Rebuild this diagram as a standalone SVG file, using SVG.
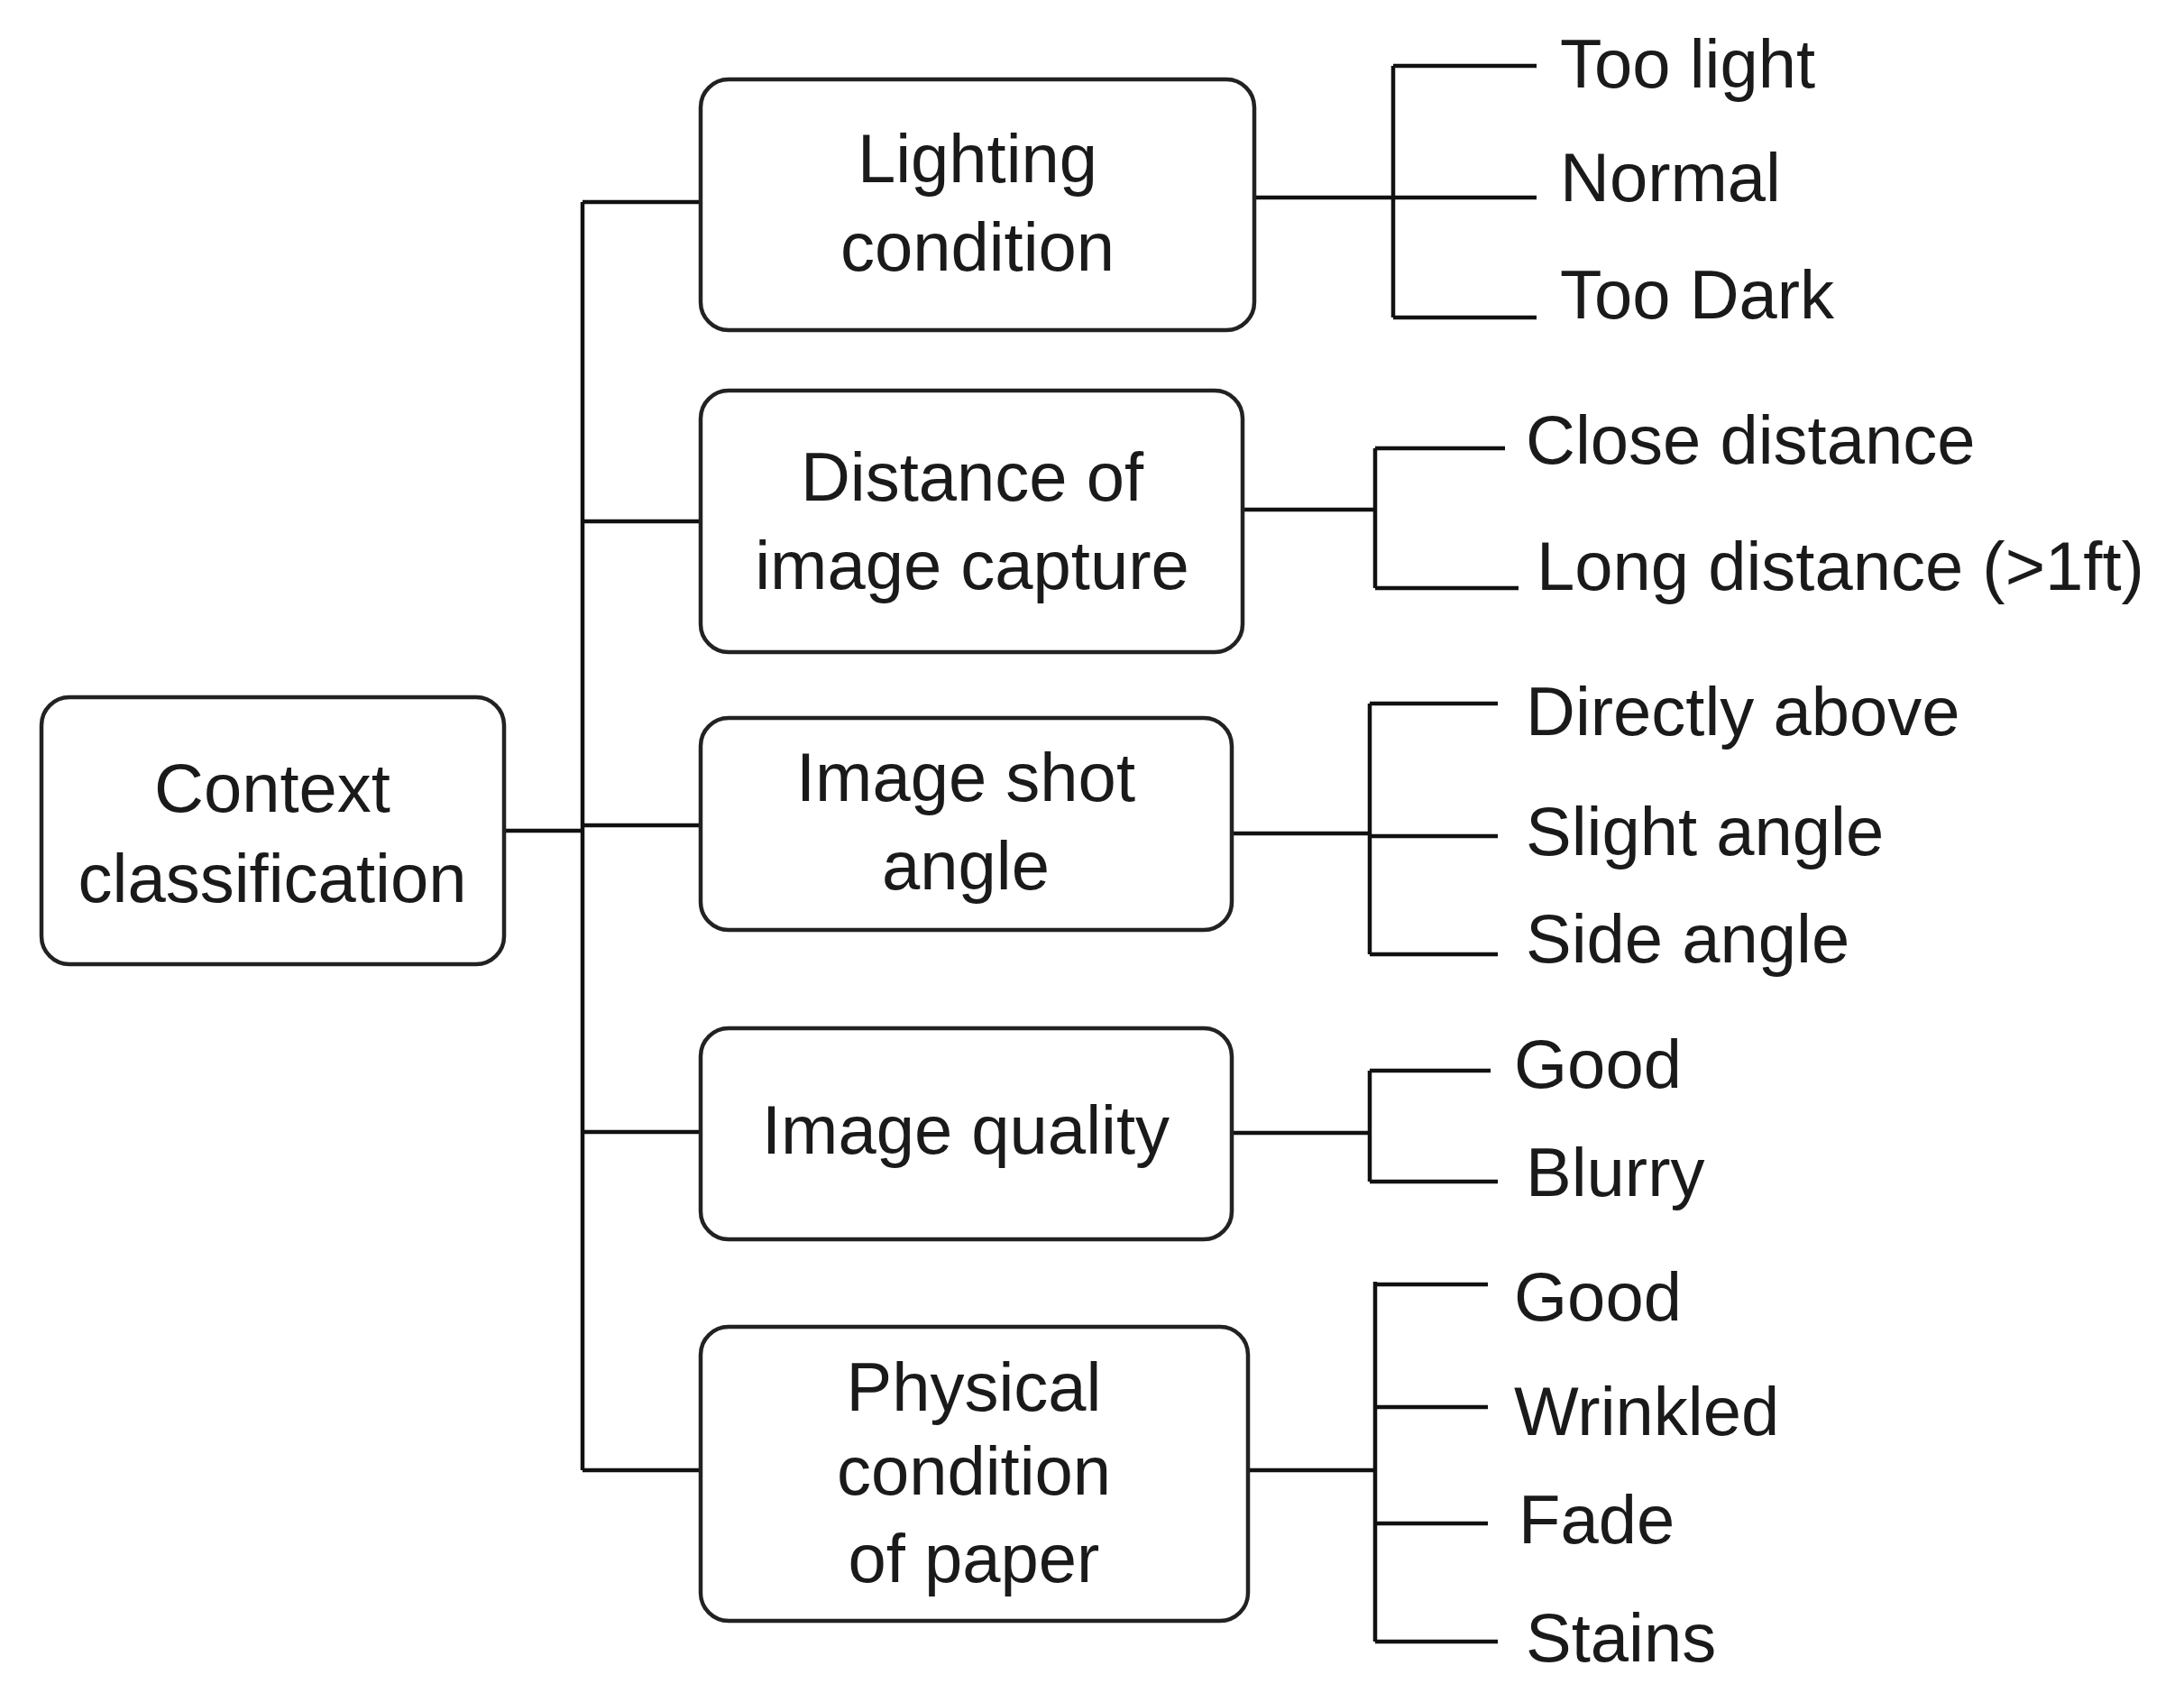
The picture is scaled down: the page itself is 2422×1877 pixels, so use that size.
<svg xmlns="http://www.w3.org/2000/svg" width="2422" height="1877" viewBox="0 0 2422 1877">
<style>
.b{fill:#fff;stroke:#222;stroke-width:4.5}
text{font-family:"Liberation Sans",Arial,sans-serif;font-size:76px;fill:#1a1a1a;dominant-baseline:central}
.c{text-anchor:middle}
.l{fill:none;stroke:#111;stroke-width:4.5}
</style>
<rect width="2422" height="1877" fill="#fff"/>
<g id="connectors" class="l">
<path d="M559 921H646M646 224V1630M646 224H777M646 578H777M646 915H777M646 1255H777M646 1630H777"/>
<path d="M1391 219H1545M1545 73V352M1545 73H1704M1545 219H1704M1545 352H1704"/>
<path d="M1378 565H1525M1525 497V652M1525 497H1669M1525 652H1684"/>
<path d="M1366 924H1519M1519 780V1058M1519 780H1661M1519 927H1661M1519 1058H1661"/>
<path d="M1366 1256H1519M1519 1187V1310M1519 1187H1653M1519 1310H1661"/>
<path d="M1384 1630H1525M1525 1421V1820M1525 1424H1650M1525 1560H1650M1525 1689H1650M1525 1820H1661"/>
</g>
<g id="root"><rect class="b" x="46" y="773" width="513" height="296" rx="31"/><text class="c" x="302" y="873">Context</text><text class="c" x="302" y="973">classification</text></g>
<g id="lighting"><rect class="b" x="777" y="88" width="614" height="278" rx="31"/><text class="c" x="1084" y="175">Lighting</text><text class="c" x="1084" y="273">condition</text></g>
<g id="distance"><rect class="b" x="777" y="433" width="601" height="290" rx="31"/><text class="c" x="1078" y="528">Distance of</text><text class="c" x="1078" y="626">image capture</text></g>
<g id="angle"><rect class="b" x="777" y="796" width="589" height="235" rx="31"/><text class="c" x="1071" y="861">Image shot</text><text class="c" x="1071" y="959">angle</text></g>
<g id="quality"><rect class="b" x="777" y="1140" width="589" height="234" rx="31"/><text class="c" x="1071" y="1252">Image quality</text></g>
<g id="paper"><rect class="b" x="777" y="1471" width="607" height="326" rx="31"/><text class="c" x="1080" y="1537">Physical</text><text class="c" x="1080" y="1630">condition</text><text class="c" x="1080" y="1727">of paper</text></g>
<g id="leaves">
<text x="1730" y="70">Too light</text><text x="1730" y="196">Normal</text><text x="1730" y="326">Too Dark</text>
<text x="1692" y="487">Close distance</text><text x="1704" y="627">Long distance (&gt;1ft)</text>
<text x="1692" y="788">Directly above</text><text x="1692" y="921">Slight angle</text><text x="1692" y="1040">Side angle</text>
<text x="1679" y="1179">Good</text><text x="1692" y="1299">Blurry</text>
<text x="1679" y="1437">Good</text><text x="1679" y="1564">Wrinkled</text><text x="1684" y="1684">Fade</text><text x="1692" y="1815">Stains</text>
</g>
</svg>
